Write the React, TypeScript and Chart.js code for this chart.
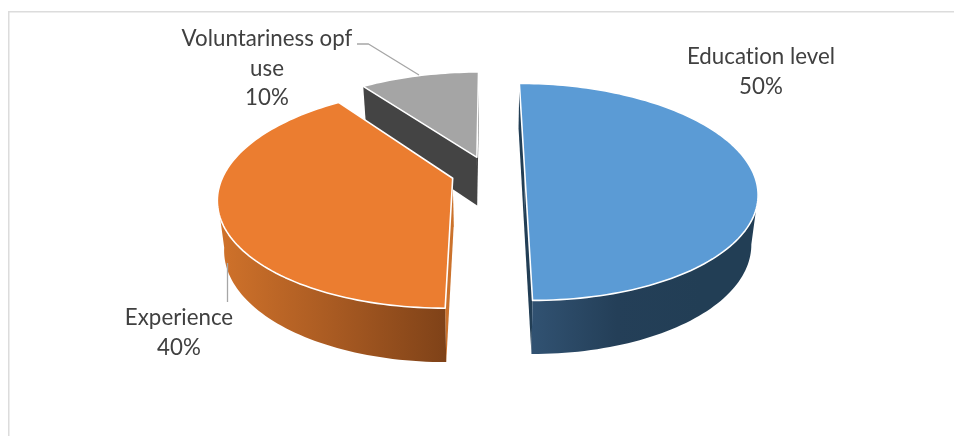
import React, { useEffect, useRef } from "react";
import { Chart, ArcElement, PieController, registerables } from "chart.js";

// Values
const categories = ["Education level", "Experience", "Voluntariness opf use"];
const shares = [50, 40, 10];

// Slice appearance
const topColors = ["#5B9BD5", "#EB7D30", "#A5A5A5"];
const wallStops = [
  ["#315272", "#243F58", "#223E55"],
  ["#CE712A", "#A85A22", "#7F4218"],
  ["#444444", "#444444", "#444444"],
];
const edgeColors = ["#223E55", "#CB722C", "#444444"];

// Text layout: wrapped lines, centre x, first baseline
const labelLines = [
  ["Education level", "50%"],
  ["Experience", "40%"],
  ["Voluntariness opf", "use", "10%"],
];
const labelCentreX = [761, 179, 267];
const labelFirstBaseline = [64, 325, 46];
const labelLeading = [29.5, 30, 29.5];
const leaderPaths = [
  [],
  [[227.5, 263], [227.5, 302]],
  [[357, 44], [368.5, 44], [419, 75]],
];

// 3D look of the disc, relative to the library's outer radius
const VIEW = { sx: 1.327, sy: 0.611, persp: 0.1743, depth: 0.283, floorShrink: 0.975, explode: 0.161 };

type Pt = [number, number];

class TiltedArc extends ArcElement {
  static id = "tiltedArc";
  static defaults = ArcElement.defaults;

  project(u: number, v: number, floor: boolean): Pt {
    const el = this as any;
    const R = el.outerRadius;
    const k = 1 / (1 - VIEW.persp * v);
    const x = u * VIEW.sx * k * (floor ? VIEW.floorShrink : 1);
    const y = VIEW.sy * v * k + (floor ? VIEW.depth * Math.sqrt(k) : 0);
    return [el.x + R * x, el.y + R * y];
  }

  draw(ctx: CanvasRenderingContext2D) {
    const el = this as any;
    const { startAngle, endAngle, options } = el;
    const idx = el.sliceIndex as number;
    const mid = (startAngle + endAngle) / 2;
    const ou = Math.cos(mid) * VIEW.explode;
    const ov = Math.sin(mid) * VIEW.explode;

    const steps = Math.max(8, Math.round((endAngle - startAngle) * 40));
    const rimAngles = Array.from({ length: steps + 1 }, (_, i) => startAngle + ((endAngle - startAngle) * i) / steps);
    const rimPoint = (a: number, floor: boolean) => this.project(ou + Math.cos(a), ov + Math.sin(a), floor);

    const trace = (pts: Pt[]) => {
      ctx.beginPath();
      pts.forEach((p, i) => (i ? ctx.lineTo(p[0], p[1]) : ctx.moveTo(p[0], p[1])));
      ctx.closePath();
    };

    const topRim = rimAngles.map((a) => rimPoint(a, false));
    const floorRim = rimAngles.map((a) => rimPoint(a, true));
    const apexTop = this.project(ou, ov, false);
    const apexFloor = this.project(ou, ov, true);

    // Cut faces along the two radii
    ctx.fillStyle = edgeColors[idx];
    trace([apexTop, topRim[0], floorRim[0], apexFloor]);
    ctx.fill();
    trace([apexTop, topRim[steps], floorRim[steps], apexFloor]);
    ctx.fill();

    // Curved outer wall: only the part of the rim that faces the viewer
    const facing = rimAngles.filter((a) => Math.sin(a) > VIEW.persp);
    if (facing.length > 1) {
      const wallTop = facing.map((a) => rimPoint(a, false));
      const wallFloor = facing.map((a) => rimPoint(a, true));
      const xs = wallFloor.map((p) => p[0]);
      const yMax = Math.max(...wallFloor.map((p) => p[1]));
      const nearX = wallFloor[wallFloor.findIndex((p) => p[1] === yMax)][0];
      const gradLeft = idx === 0 ? nearX : Math.min(...xs);
      const gradRight = idx === 0 ? nearX + 170 : nearX;
      const g = ctx.createLinearGradient(gradLeft, 0, gradRight, 0);
      wallStops[idx].forEach((c, i) => g.addColorStop(i / 2, c));
      ctx.fillStyle = g;
      trace([...wallTop, ...wallFloor.reverse()]);
      ctx.fill();
    }

    // Top face with its white outline
    trace([apexTop, ...topRim]);
    ctx.fillStyle = options.backgroundColor;
    ctx.fill();
    ctx.strokeStyle = options.borderColor;
    ctx.lineWidth = options.borderWidth;
    ctx.lineJoin = "round";
    ctx.stroke();
  }
}

class TiltedPie extends (PieController as any) {
  static id = "tiltedPie";
  static defaults = { dataElementType: "tiltedArc" };

  // Paint back to front so nearer slices cover the walls behind them.
  draw() {
    const ctx = (this as any).chart.ctx;
    const arcs = (this as any)._cachedMeta.data as any[];
    arcs.forEach((arc, i) => (arc.sliceIndex = i));
    [...arcs].reverse().forEach((arc) => arc.draw(ctx));
  }
}

Chart.register(...registerables, TiltedArc, TiltedPie as any);

const framePlugin = {
  id: "frame",
  beforeDraw(chart: any) {
    const { ctx, width, height } = chart;
    ctx.save();
    ctx.fillStyle = "#ffffff";
    ctx.fillRect(0, 0, width, height);
    ctx.fillStyle = "#DCDCDC";
    ctx.fillRect(8, 11, width - 8, 1.5);
    ctx.fillRect(8, 11, 1.5, height - 11);
    ctx.restore();
  },
};

const labelPlugin = {
  id: "sliceLabels",
  afterDatasetsDraw(chart: any) {
    const { ctx } = chart;
    ctx.save();
    ctx.strokeStyle = "#A6A6A6";
    ctx.lineWidth = 1.3;
    leaderPaths.forEach((path) => {
      if (!path.length) return;
      ctx.beginPath();
      path.forEach((p, i) => (i ? ctx.lineTo(p[0], p[1]) : ctx.moveTo(p[0], p[1])));
      ctx.stroke();
    });
    ctx.fillStyle = "#404040";
    ctx.font = "22.3px Lato";
    ctx.letterSpacing = "0.01px";
    ctx.textAlign = "center";
    ctx.textBaseline = "alphabetic";
    labelLines.forEach((lines, i) => {
      lines.forEach((line, j) => {
        ctx.fillText(line, labelCentreX[i], labelFirstBaseline[i] + j * labelLeading[i]);
      });
    });
    ctx.restore();
  },
};

export default function App() {
  const ref = useRef<HTMLCanvasElement>(null);
  useEffect(() => {
    const chart = new Chart(ref.current as HTMLCanvasElement, {
      type: "tiltedPie" as any,
      data: {
        labels: categories,
        datasets: [
          {
            data: shares,
            backgroundColor: topColors,
            borderColor: "#ffffff",
            borderWidth: 1.6,
          } as any,
        ],
      },
      options: {
        responsive: false,
        animation: false,
        rotation: 0,
        layout: { padding: { left: 22, bottom: 90 } },
        plugins: { legend: { display: false }, tooltip: { enabled: false } },
      } as any,
      plugins: [framePlugin, labelPlugin],
    });
    return () => chart.destroy();
  }, []);
  return (
    <canvas
      ref={ref}
      width={954}
      height={436}
      style={{ position: "fixed", left: 0, top: 0, display: "block" }}
    />
  );
}
